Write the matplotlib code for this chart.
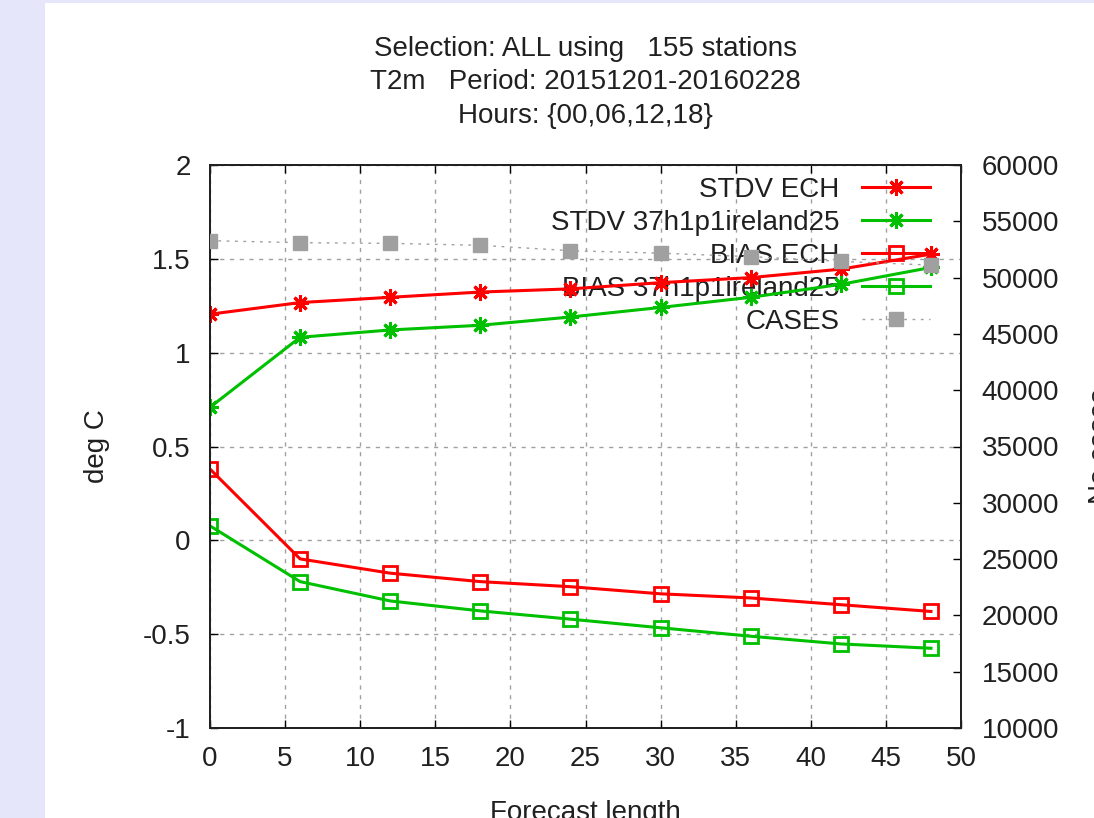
import matplotlib
matplotlib.use('Agg')
import matplotlib.pyplot as plt
from matplotlib.patches import Rectangle

plt.rcParams['font.family'] = ['Liberation Sans', 'DejaVu Sans']

# forecast lengths (hours)
lead = [0, 6, 12, 18, 24, 30, 36, 42, 48]

# deg C
stdv_ech = [1.205, 1.267, 1.295, 1.323, 1.34, 1.373, 1.40, 1.445, 1.525]
stdv_exp = [0.709, 1.082, 1.121, 1.146, 1.19, 1.241, 1.295, 1.364, 1.454]
bias_ech = [0.380, -0.099, -0.175, -0.22, -0.247, -0.285, -0.307, -0.343, -0.379]
bias_exp = [0.077, -0.22, -0.323, -0.376, -0.42, -0.466, -0.511, -0.552, -0.575]

# number of cases
cases = [53280, 53100, 53040, 52870, 52390, 52170, 51860, 51440, 51110]

title_lines = ['Selection: ALL using   155 stations',
               'T2m   Period: 20151201-20160228',
               'Hours: {00,06,12,18}']

RED = '#ff0000'
GREEN = '#00c000'
GREY = '#a0a0a0'
FS = 20

fig = plt.figure(figsize=(10.94, 8.18), dpi=100, facecolor='#e6e6fa')
fig.patches.append(Rectangle((45 / 1094, 0), 1, 815 / 818, transform=fig.transFigure,
                             facecolor='white', edgecolor='none', zorder=-10))

ax = fig.add_axes([210 / 1094, 90 / 818, 751 / 1094, 563 / 818])
ax2 = ax.twinx()

star = (8, 2, 0)
l1, = ax.plot(lead, stdv_ech, color=RED, lw=2.2, marker=star, ms=12, mew=2.2, zorder=4)
l2, = ax.plot(lead, stdv_exp, color=GREEN, lw=2.2, marker=star, ms=12, mew=2.2, zorder=4)
l3, = ax.plot(lead, bias_ech, color=RED, lw=2.2, marker='s', ms=9.5, mew=2, mfc='none', zorder=4)
l4, = ax.plot(lead, bias_exp, color=GREEN, lw=2.2, marker='s', ms=9.5, mew=2, mfc='none', zorder=4)
l5, = ax2.plot(lead, cases, color=GREY, lw=1, ls=(0, (2, 4)), marker='s', ms=10,
               mec=GREY, mfc=GREY, zorder=4)

ax.set_xlim(0, 50)
ax.set_ylim(-1, 2)
ax2.set_ylim(10000, 60000)
ax.set_xticks(range(0, 51, 5))
ax.set_yticks([-1, -0.5, 0, 0.5, 1, 1.5, 2])
ax.set_yticklabels(['-1', '-0.5', '0', '0.5', '1', '1.5', '2'])
ax2.set_yticks(range(10000, 60001, 5000))

ax.grid(True, color=GREY, ls=(0, (3, 4)), lw=1)
ax.tick_params(axis='both', direction='in', length=6, width=1, labelsize=FS, pad=14,
               colors='black', labelcolor='#202020', top=True)
ax.tick_params(axis='x', pad=13)
ax2.tick_params(axis='y', direction='in', length=6, width=1, labelsize=FS, pad=15,
                labelcolor='#202020')
for a in (ax, ax2):
    for s in a.spines.values():
        s.set_linewidth(1.3)
        s.set_color('#202020')

ax.set_ylabel('deg C', fontsize=FS, color='#202020')
ax.yaxis.set_label_coords(-0.133, 0.5)
ax.set_xlabel('Forecast length', fontsize=FS, color='#202020')
ax.xaxis.set_label_coords(0.5, -0.1275)
ax2.set_ylabel('No cases', fontsize=FS, color='#202020')
ax2.yaxis.set_label_coords(1.169, 0.5)

fig.text(585 / 1094, 1 - 36 / 818, '\n'.join(title_lines), ha='center', va='top',
         fontsize=FS, color='#202020', linespacing=1.37)

leg = ax.legend([l1, l2, l3, l4, l5],
                ['STDV ECH', 'STDV 37h1p1ireland25', 'BIAS ECH',
                 'BIAS 37h1p1ireland25', 'CASES'],
                loc='upper right', bbox_to_anchor=(0.9587, 0.979), frameon=False,
                markerfirst=False, fontsize=FS, borderpad=0, borderaxespad=0,
                handlelength=2.45, handletextpad=0.8, labelspacing=0.25)
leg.set_zorder(2)
for t in leg.get_texts():
    t.set_color('#202020')

fig.savefig('out.png', dpi=100, facecolor=fig.get_facecolor())
